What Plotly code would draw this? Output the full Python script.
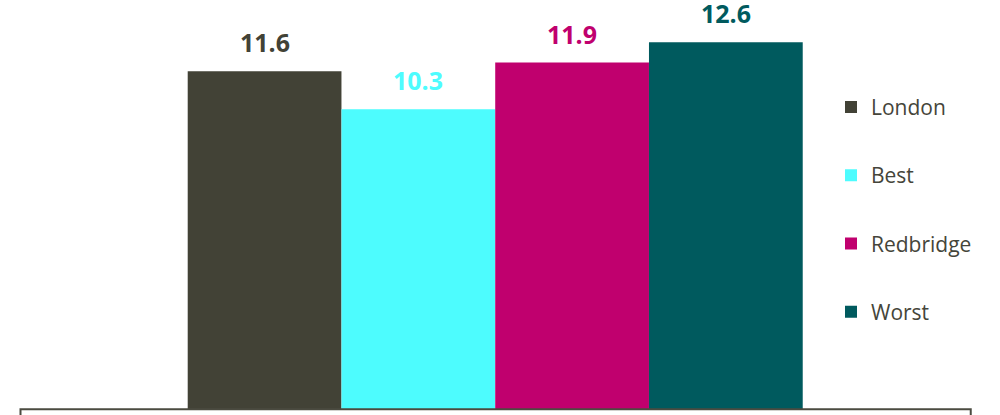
import plotly.graph_objects as go

# Series shown as side-by-side bars
series = ["London", "Best", "Redbridge", "Worst"]
values = [11.6, 10.3, 11.9, 12.6]
colors = ["#424236", "#4dfcfe", "#c0006e", "#005a5e"]
positions = [0, 1, 2, 3]

fig = go.Figure()

for name, val, col, pos in zip(series, values, colors, positions):
    fig.add_trace(go.Bar(
        x=[pos], y=[val], name=name, width=1,
        marker=dict(color=col, line=dict(width=0)),
        legendgroup=name, hoverinfo="skip",
    ))
    fig.add_annotation(
        x=pos, y=val, text=f"<b>{val:.1f}</b>", showarrow=False,
        xanchor="center", yanchor="bottom", yshift=10,
        font=dict(family="Open Sans", size=25, color=col),
    )

# Frame line along the baseline, with short verticals at each end
fig.add_shape(
    type="rect", xref="x", yref="y",
    x0=-1.5875, x1=4.5927, y0=0, y1=-1,
    line=dict(color="#4b4b40", width=2), fillcolor="rgba(0,0,0,0)",
    layer="above",
)

fig.update_layout(
    width=1000, height=415,
    margin=dict(l=0, r=0, t=0, b=0),
    paper_bgcolor="white", plot_bgcolor="white",
    barmode="overlay",
    showlegend=True,
    legend=dict(
        x=0.831, y=0.791, xanchor="left", yanchor="top",
        font=dict(family="Open Sans", size=21, color="#45453a"),
        tracegroupgap=38, bgcolor="rgba(0,0,0,0)",
    ),
    xaxis=dict(range=[-1.7208, 4.783], visible=False, fixedrange=True),
    yaxis=dict(range=[-0.1956, 14.046], visible=False, fixedrange=True),
)

fig.write_html("out.html")
